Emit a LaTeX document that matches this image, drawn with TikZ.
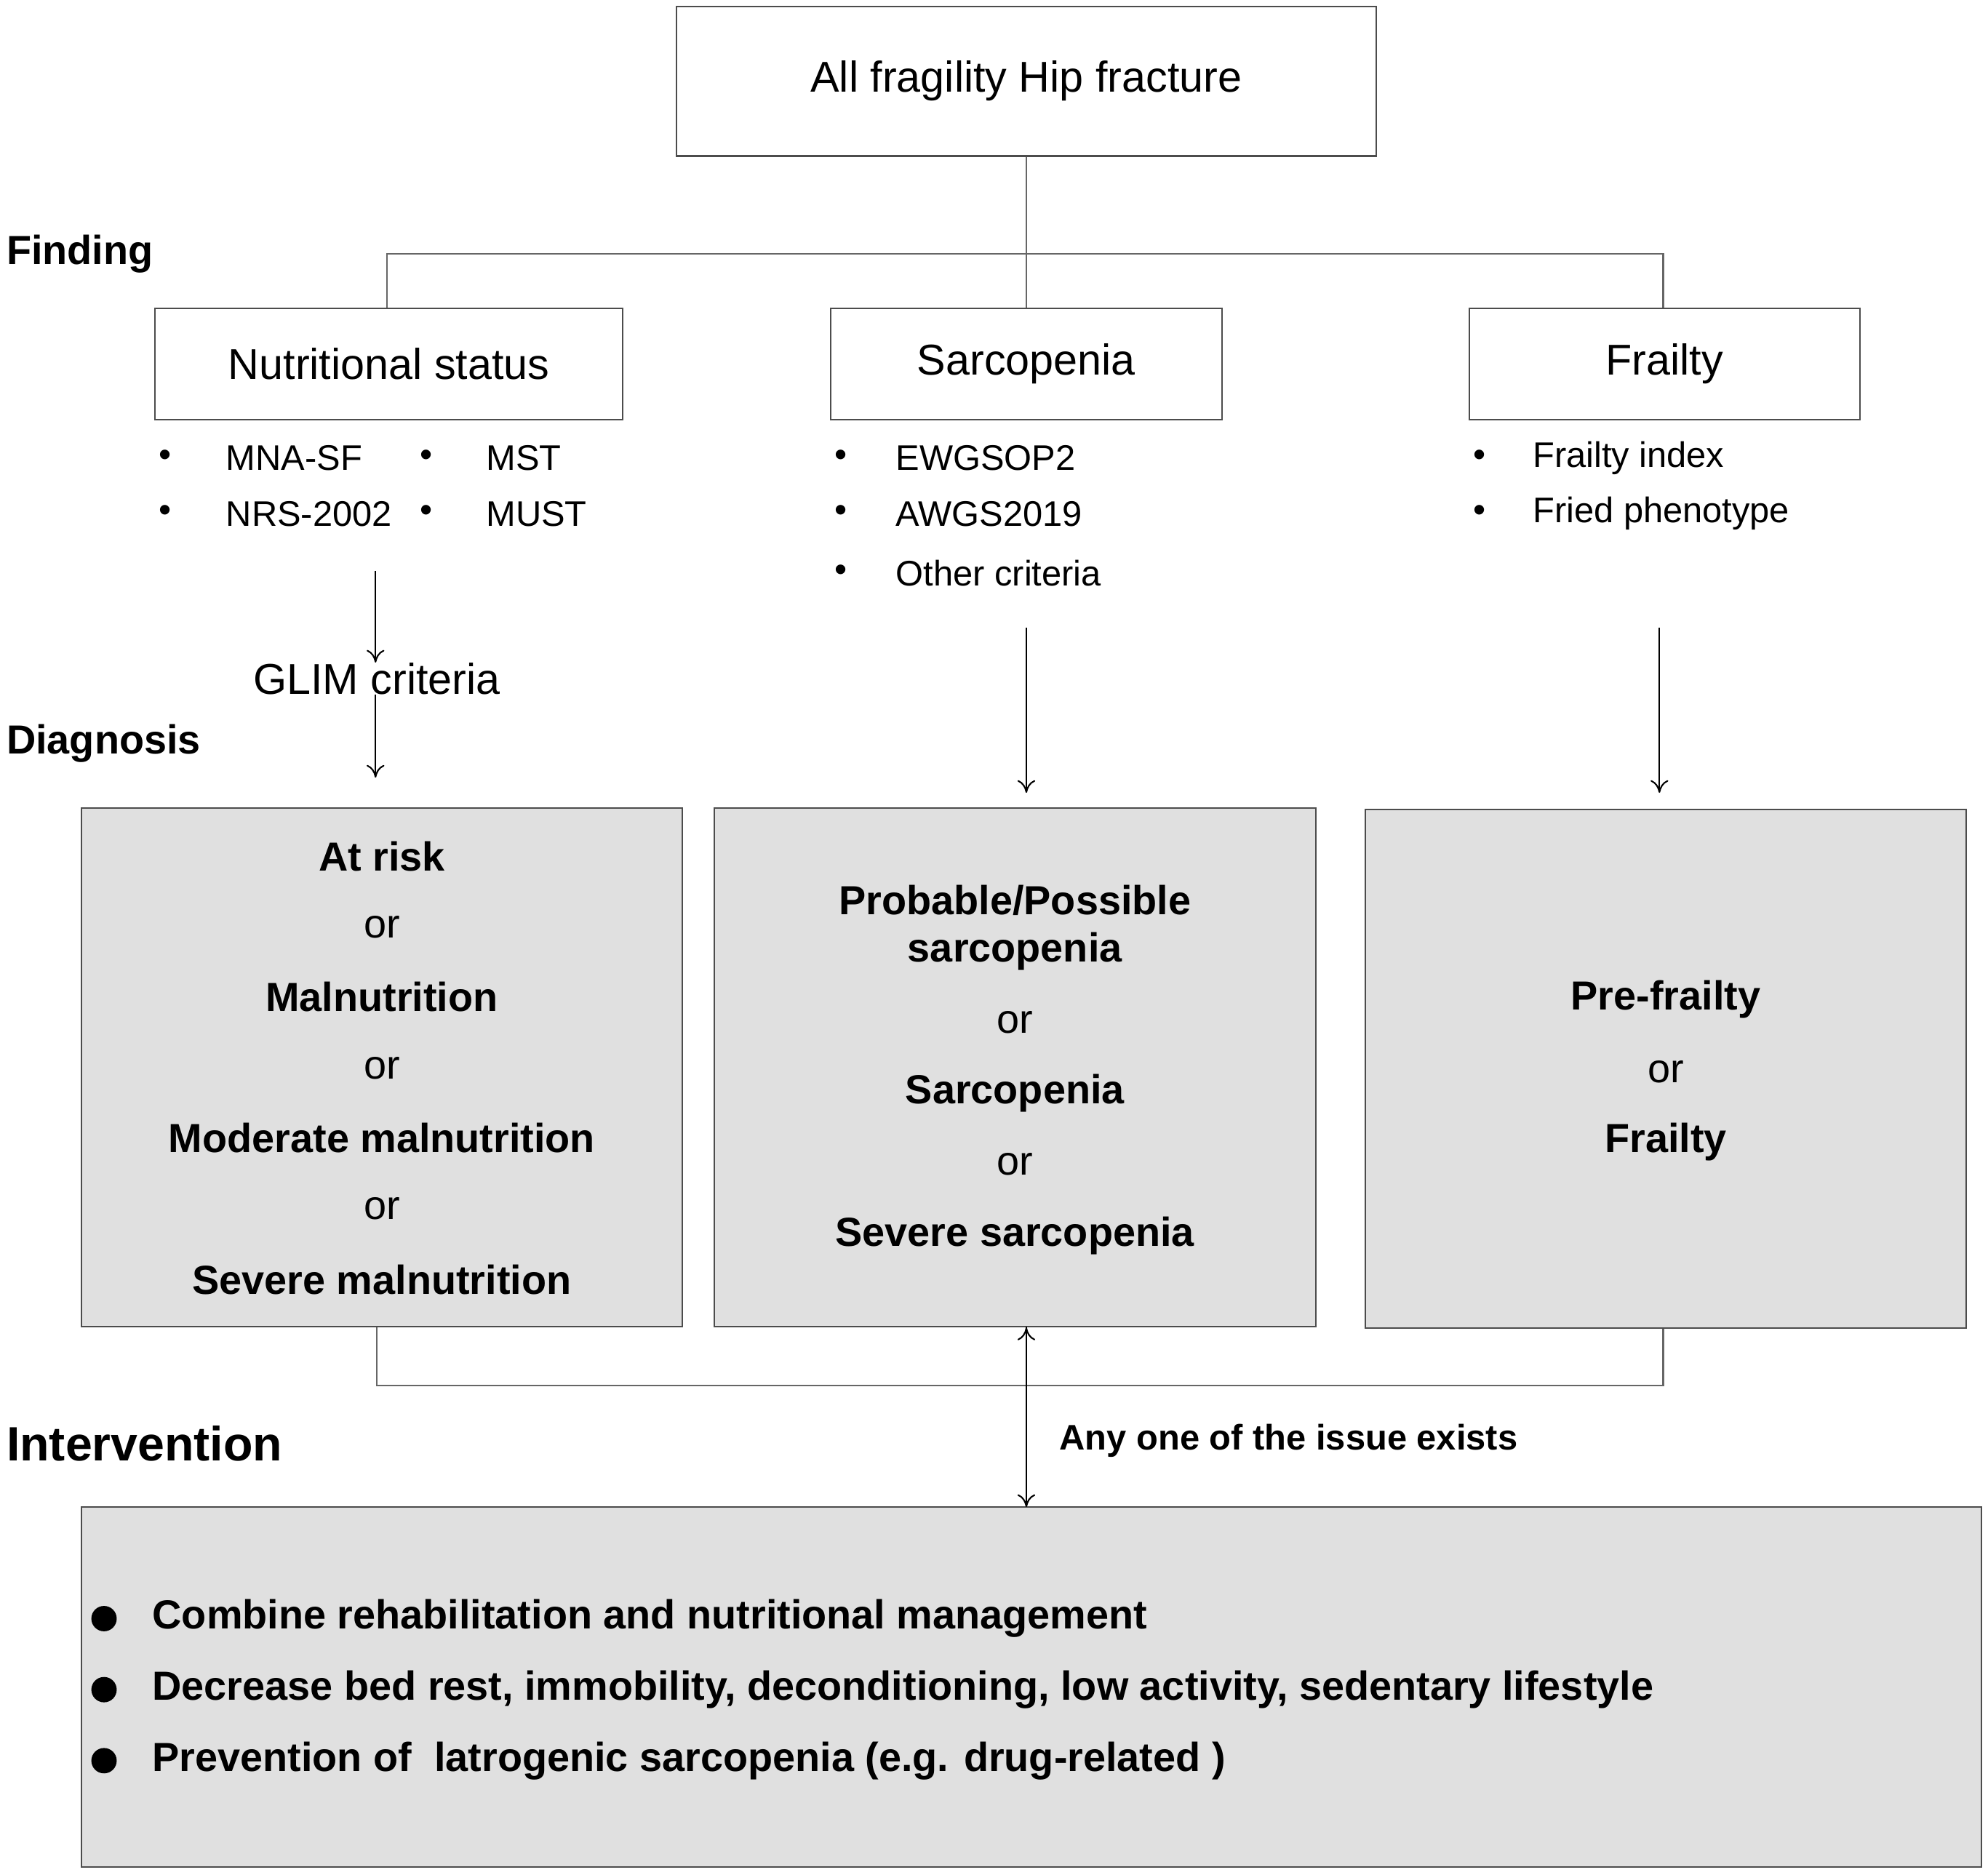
\documentclass[tikz,border=0pt]{standalone}
\usepackage{fontspec}
\setmainfont{Liberation Sans}
\usetikzlibrary{arrows.meta}
\begin{document}
\begin{tikzpicture}[x=1pt,y=-1pt,
  box/.style={draw=black!70,line width=1.2pt,inner sep=0pt},
  gbox/.style={box,fill=black!12},
  ln/.style={draw=black!60,line width=1.2pt},
  arr/.style={ln,draw=black,-{To[length=10pt,width=14pt]}},
  t/.style={font=\fontsize{28}{32}\selectfont,inner sep=0pt},
  tb/.style={font=\fontsize{32}{36}\selectfont\bfseries,inner sep=0pt},
  lab/.style={font=\fontsize{32}{36}\selectfont\bfseries,inner sep=0pt,anchor=west}]
\useasboundingbox (0,0) rectangle (1567,1478);
\node[box,minimum width=552pt,minimum height=118pt,font=\fontsize{34}{38}\selectfont] (top) at (809,64) {All fragility Hip fracture};
\node[box,minimum width=369pt,minimum height=88pt,font=\fontsize{34}{38}\selectfont] (nut) at (306.5,287) {Nutritional status};
\node[box,minimum width=308pt,minimum height=88pt,font=\fontsize{34}{38}\selectfont] (sar) at (809,287) {Sarcopenia};
\node[box,minimum width=308pt,minimum height=88pt,font=\fontsize{34}{38}\selectfont] (fra) at (1312,287) {Frailty};
\node[lab] (find) at (5,200) {Finding};
\node[lab] (diag) at (5,586) {Diagnosis};
\node[lab,font=\fontsize{38}{42}\selectfont\bfseries] (intv) at (5,1138) {Intervention};
\coordinate (jl) at (305,200); \coordinate (jr) at (1311,200);
\draw[ln] (top.south) -- (sar.north);
\draw[ln] (nut.north -| jl) -- (jl) -- (jr) -- (fra.north -| jr);
% bullets
\foreach \x/\tx/\y/\s in {130/178/361/MNA-SF,130/178/405/NRS-2002,336/383/361/MST,336/383/405/MUST,663/706/361/EWGSOP2,663/706/405/AWGS2019,663/706/452/Other criteria,1166/1208/361/Frailty index,1166/1208/405/Fried phenotype}{
  \node[t] at (\x,\y) {\textbullet}; \node[t,anchor=west] at (\tx,\y) {\s};}
\node[t,font=\fontsize{34}{38}\selectfont] (glim) at (297,535) {GLIM criteria};
\coordinate (a1) at (296,450);
\draw[arr] (a1) -- (glim.north -| a1);
% gray boxes
\node[gbox,minimum width=474pt,minimum height=409pt] (g1) at (301,841.5) {};
\node[gbox,minimum width=474pt,minimum height=409pt] (g2) at (800,841.5) {};
\node[gbox,minimum width=474pt,minimum height=409pt] (g3) at (1313,842.5) {};
\draw[arr] (glim.south -| a1) -- (296,613);
\coordinate (s1) at (809,495); \coordinate (f1) at (1308,495);
\draw[arr] (s1) -- (809,625);
\draw[arr] (f1) -- (1308,625);
\foreach \y/\s/\b in {675/At risk/1,731/or/0,786/Malnutrition/1,842/or/0,897/Moderate malnutrition/1,953/or/0,1009/Severe malnutrition/1}{
  \ifnum\b=1 \node[tb] at (301,\y) {\s}; \else \node[t,font=\fontsize{32}{36}\selectfont] at (301,\y) {\s}; \fi}
\foreach \y/\s/\b in {710/Probable\slash Possible/1,750/sarcopenia/1,806/or/0,862/Sarcopenia/1,918/or/0,974/Severe sarcopenia/1}{
  \ifnum\b=1 \node[tb] at (800,\y) {\s}; \else \node[t,font=\fontsize{32}{36}\selectfont] at (800,\y) {\s}; \fi}
\foreach \y/\s/\b in {788/Pre-frailty/1,845/or/0,900/Frailty/1}{
  \ifnum\b=1 \node[tb] at (1313,\y) {\s}; \else \node[t,font=\fontsize{32}{36}\selectfont] at (1313,\y) {\s}; \fi}
% bottom
\node[gbox,minimum width=1498pt,minimum height=284pt] (bot) at (813,1330) {};
\coordinate (b1) at (297,1092); \coordinate (b3) at (1311,1092);
\draw[ln] (g1.south -| b1) -- (b1) -- (b3) -- (g3.south -| b3);
\draw[arr] (g2.south -| bot.north) ++(-4,0) coordinate (c0);
\draw[arr] (809,1046) -- (809,1188);
\node[lab,font=\fontsize{28}{32}\selectfont\bfseries] (any) at (835,1136) {Any one of the issue exists};
\foreach \y/\s in {1276/Combine rehabilitation and nutritional management,1332/{Decrease bed rest, immobility, deconditioning, low activity, sedentary lifestyle},1388/{Prevention of \ latrogenic sarcopenia (e.g. drug-related )}}{
  \fill (82,\y) circle (10pt);
  \node[lab] at (120,\y) {\s};}
\end{tikzpicture}
\end{document}
